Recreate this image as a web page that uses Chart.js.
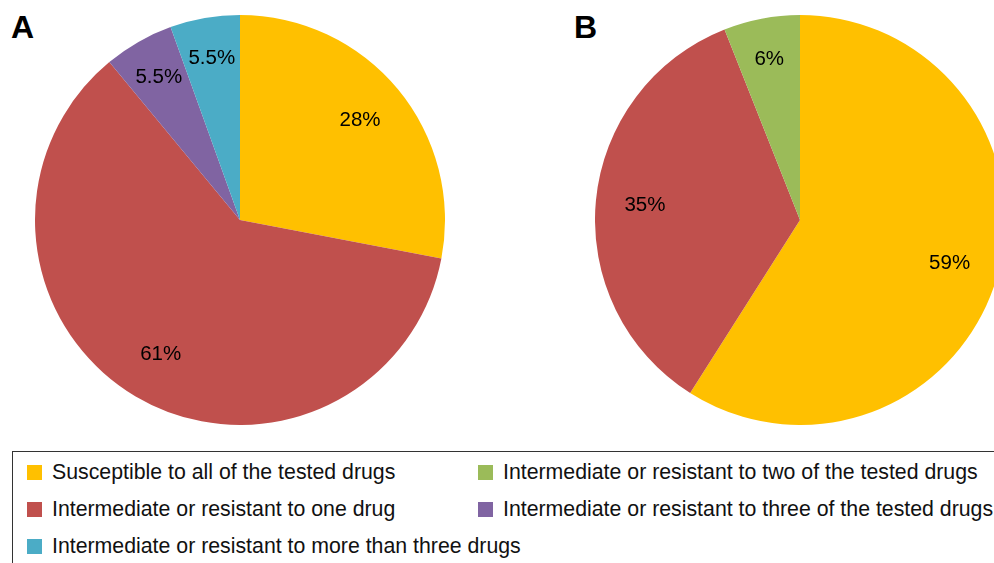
<!DOCTYPE html>
<html>
<head>
<meta charset="utf-8">
<script src="https://cdn.jsdelivr.net/npm/chart.js@4"></script>
<style>
  html, body { margin: 0; padding: 0; width: 994px; height: 563px; overflow: hidden; background: #fff; font-family: "Liberation Sans", Arial, sans-serif; }
  .panel-label { position: absolute; font-weight: bold; font-size: 32px; line-height: 32px; color: #000; }
  #wrapA { position: absolute; left: 35px; top: 15px; width: 410px; height: 410px; }
  #wrapB { position: absolute; left: 595px; top: 15px; width: 399px; height: 410px; overflow: hidden; }
  #legend { position: absolute; left: 12px; top: 451px; width: 1000px; height: 130px; border: 1px solid #333; box-sizing: border-box; }
  .item { position: absolute; font-size: 21.3px; line-height: 24px; color: #111; white-space: nowrap; }
  .sw { position: absolute; width: 15px; height: 15px; top: 5px; }
  .txt { position: absolute; left: 25px; top: 0; }
</style>
</head>
<body>
<div class="panel-label" style="left:11px; top:11px;">A</div>
<div class="panel-label" style="left:574px; top:11px;">B</div>
<div id="wrapA"><canvas id="chartA" width="410" height="410"></canvas></div>
<div id="wrapB"><canvas id="chartB" width="410" height="410"></canvas></div>
<div id="legend"></div>
<script>
// Categories and colours
const categories = [
  "Susceptible to all of the tested drugs",
  "Intermediate or resistant to one drug",
  "Intermediate or resistant to more than three drugs",
  "Intermediate or resistant to two of the tested drugs",
  "Intermediate or resistant to three of the tested drugs"
];
const categoryColors = ["#FFC000", "#C0504D", "#4BACC6", "#9BBB59", "#8064A2"];

// Panel A (order clockwise from top)
const labelsA = [categories[0], categories[1], categories[4], categories[2]];
const valuesA = [28, 61, 5.5, 5.5];
const colorsA = [categoryColors[0], categoryColors[1], categoryColors[4], categoryColors[2]];

// Panel B
const labelsB = [categories[0], categories[1], categories[3]];
const valuesB = [59, 35, 6];
const colorsB = [categoryColors[0], categoryColors[1], categoryColors[3]];

const pctLabels = {
  id: 'pctLabels',
  afterDatasetsDraw(chart) {
    const ctx = chart.ctx;
    const meta = chart.getDatasetMeta(0);
    const data = chart.data.datasets[0].data;
    ctx.save();
    ctx.font = '20.5px "Liberation Sans", Arial, sans-serif';
    ctx.fillStyle = '#000';
    ctx.textAlign = 'center';
    ctx.textBaseline = 'middle';
    meta.data.forEach((arc, i) => {
      const p = arc.getProps(['x', 'y', 'startAngle', 'endAngle', 'outerRadius'], true);
      const mid = (p.startAngle + p.endAngle) / 2;
      const frac = data[i] < 10 ? 0.8 : 0.76;
      const r = p.outerRadius * frac;
      ctx.fillText(data[i] + '%', p.x + Math.cos(mid) * r, p.y + Math.sin(mid) * r);
    });
    ctx.restore();
  }
};

function makePie(id, labels, values, colors) {
  return new Chart(document.getElementById(id), {
    type: 'pie',
    data: { labels: labels, datasets: [{ data: values, backgroundColor: colors, borderWidth: 0 }] },
    options: {
      responsive: false,
      animation: false,
      layout: { padding: 0 },
      plugins: { legend: { display: false }, tooltip: { enabled: false } },
      events: []
    },
    plugins: [pctLabels]
  });
}
makePie('chartA', labelsA, valuesA, colorsA);
makePie('chartB', labelsB, valuesB, colorsB);

// Legend: column 1 = first three categories, column 2 = the rest
const legend = document.getElementById('legend');
categories.forEach((name, i) => {
  const col = i < 3 ? 0 : 1;
  const row = i < 3 ? i : i - 3;
  const div = document.createElement('div');
  div.className = 'item';
  div.style.left = (col === 0 ? 14 : 465) + 'px';
  div.style.top = (8 + row * 37) + 'px';
  div.innerHTML = '<span class="sw" style="background:' + categoryColors[i] + '"></span><span class="txt">' + name + '</span>';
  legend.appendChild(div);
});
</script>
</body>
</html>
